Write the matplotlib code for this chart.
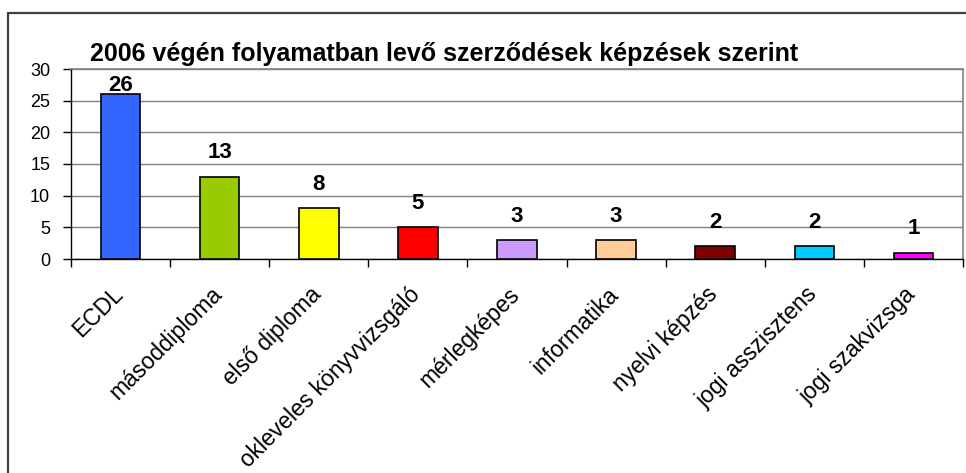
import matplotlib
matplotlib.use("Agg")
import matplotlib.pyplot as plt
from matplotlib.patches import Rectangle
from matplotlib.transforms import ScaledTranslation
import numpy as np

categories = ["ECDL", "másoddiploma", "első diploma", "okleveles könyvvizsgáló",
              "mérlegképes", "informatika", "nyelvi képzés", "jogi asszisztens",
              "jogi szakvizsga"]
values = [26, 13, 8, 5, 3, 3, 2, 2, 1]
colors = ["#3366FF", "#99CC00", "#FFFF00", "#FF0000", "#CC99FF", "#FFCC99",
          "#800000", "#00CCFF", "#FF00FF"]
yticks = [0, 5, 10, 15, 20, 25, 30]
title = "2006 végén folyamatban levő szerződések képzések szerint"

plt.rcParams['font.family'] = ['Liberation Sans', 'DejaVu Sans']

W, H = 966, 473
fig = plt.figure(figsize=(W / 100, H / 100), dpi=100)
fig.patch.set_facecolor("white")

# chart border
fig.patches.append(Rectangle((8 / W, -0.2), 1.2, 1 - 13 / H + 0.2,
                             transform=fig.transFigure, fill=False,
                             edgecolor="#404040", linewidth=1.6))

ax = fig.add_axes([71 / W, 1 - 259 / H, (963 - 71) / W, (259 - 69) / H])
x = np.arange(len(categories))
ax.bar(x, values, width=0.4, color=colors, edgecolor="black", linewidth=1.2, zorder=3)

ax.set_xlim(-0.5, len(categories) - 0.5)
ax.set_ylim(0, 30)
ax.set_yticks(yticks)
ax.set_yticklabels([str(t) for t in yticks], fontsize=13)
ax.yaxis.grid(True, color="#808080", linewidth=1.0, zorder=0)
ax.set_axisbelow(True)

ax.set_xticks(x)
ax.set_xticklabels(categories, rotation=45, ha="right", va="top",
                   rotation_mode="anchor", fontsize=16.5)
ax.tick_params(axis="x", which="major", length=0, pad=17)
offset = ScaledTranslation(-9 / 100, 0, fig.dpi_scale_trans)
for lbl in ax.get_xticklabels():
    lbl.set_transform(lbl.get_transform() + offset)
ax.set_xticks(np.arange(-0.5, len(categories), 1.0), minor=True)
ax.tick_params(axis="x", which="minor", length=6, direction="out", color="black", width=1)
ax.tick_params(axis="y", length=6, direction="out", width=1, pad=9)

for s in ["top", "right"]:
    ax.spines[s].set_color("#808080")
    ax.spines[s].set_linewidth(1.2)
for s in ["left", "bottom"]:
    ax.spines[s].set_color("black")
    ax.spines[s].set_linewidth(1.0)

# data labels
px_per_unit = (259 - 69) / 30.0
for xi, v in zip(x, values):
    ylab = min(v + 24 / px_per_unit, 27.4)
    ax.text(xi, ylab, str(v), ha="center", va="center", fontsize=16,
            fontweight="bold", zorder=4)

fig.text(444 / W, 1 - 61 / H, title, ha="center", va="baseline",
         fontsize=18, fontweight="bold")

fig.savefig("out.png", dpi=100)
